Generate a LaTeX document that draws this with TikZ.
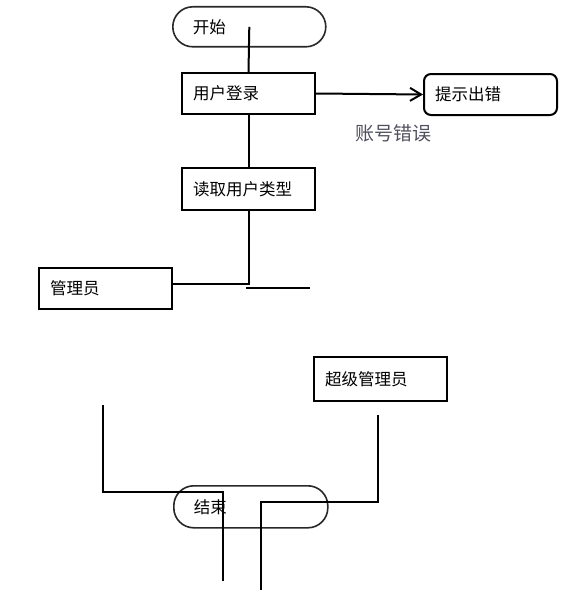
\documentclass[tikz,border=0pt]{standalone}
\usepackage{fontspec}
\setmainfont{Noto Sans CJK SC}
\usetikzlibrary{arrows.meta}
\definecolor{lblgray}{RGB}{80,80,95}
\definecolor{pillgray}{RGB}{40,40,40}
\begin{document}
\begin{tikzpicture}[x=1pt,y=-1pt,
  every node/.style={font=\fontsize{16.5}{19}\selectfont},
  procbox/.style={draw=black,line width=2pt,minimum width=133pt,minimum height=41pt,
    text width=111pt,inner xsep=11pt,inner ysep=0pt,align=left,anchor=north west},
  roundbox/.style={procbox,rounded corners=7pt},
  pill/.style={draw=pillgray,line width=1.6pt,rounded corners=20pt,minimum height=40pt,
    inner xsep=20pt,inner ysep=0pt,align=left,anchor=north west},
  conn/.style={line width=2pt,black},
  lbl/.style={text=lblgray,font=\fontsize{19}{22}\selectfont}]
\useasboundingbox (0,0) rectangle (581,594);
% nodes
\node[pill,minimum width=153pt,text width=113pt] (start) at (172,6) {开始};
\node[procbox] (login) at (181,72) {用户登录};
\node[roundbox] (err) at (423,73) {提示出错};
\node[lbl] (errlbl) at (393,133) {账号错误};
\node[procbox,minimum height=42pt] (read) at (181,167) {读取用户类型};
\node[procbox] (admin) at (38,267) {管理员};
\node[procbox,minimum height=44pt] (sadmin) at (313,356) {超级管理员};
\node[pill,minimum width=154pt,minimum height=42pt,text width=114pt] (end) at (173,485) {结束};
% coordinates for free ends
\coordinate (s1) at (246,288);
\coordinate (s2) at (310,288);
\coordinate (a1) at (103,405);
\coordinate (a2) at (103,492);
\coordinate (a3) at (223,492);
\coordinate (a4) at (223,581);
\coordinate (b1) at (378,415);
\coordinate (b2) at (378,502);
\coordinate (b3) at (261,502);
\coordinate (b4) at (261,590);
% connectors
\draw[conn] (start.center) -- (login.north);
\draw[conn,-{Straight Barb[length=11pt,width=13pt,line width=2pt]}] (login.east) -- (err.west);
\draw[conn] (login.south) -- (read.north);
\draw[conn] (read.south) |- ([yshift=4.5pt]admin.east);
\draw[conn] (s1) -- (s2);
\draw[conn] (a1) -- (a2) -- (a3) -- (a4);
\draw[conn] (b1) -- (b2) -- (b3) -- (b4);
\end{tikzpicture}
\end{document}
